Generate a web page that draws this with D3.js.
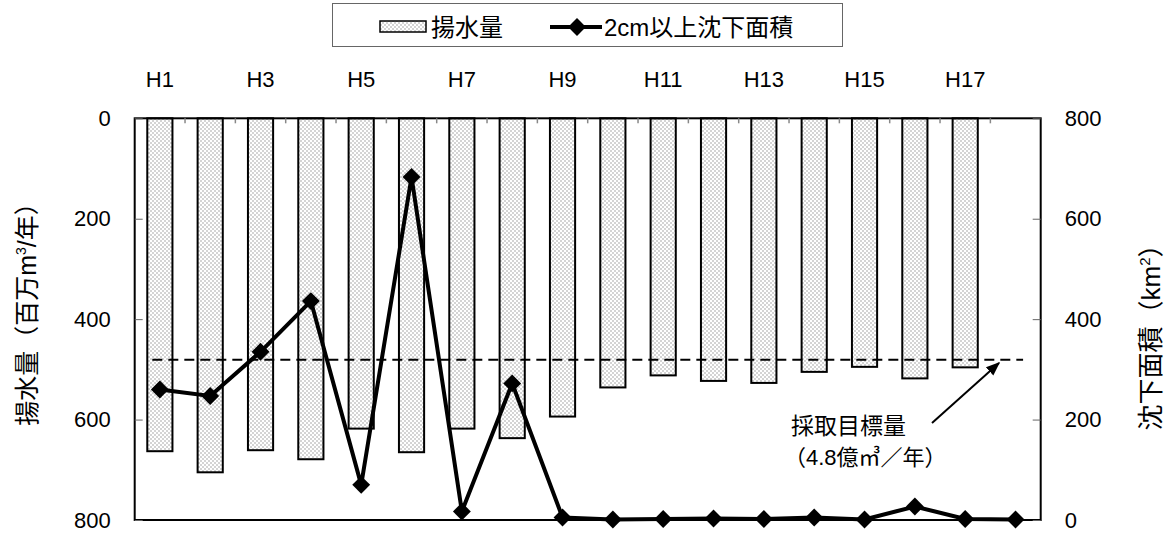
<!DOCTYPE html>
<html>
<head>
<meta charset="utf-8">
<script src="https://cdn.jsdelivr.net/npm/d3@7"></script>
<style>
  body { margin: 0; background: #fff; }
  text { font-family: "Liberation Sans", "Noto Sans CJK JP", sans-serif; fill: #000; }
</style>
</head>
<body>
<div class="chart"></div>
<script>
// data
const years = ["H1","H2","H3","H4","H5","H6","H7","H8","H9","H10","H11","H12","H13","H14","H15","H16","H17","H18"];
const yearLabels = ["H1","H3","H5","H7","H9","H11","H13","H15","H17"];
const pumping = [663, 705, 661, 679, 618, 665, 618, 637, 594, 536, 512, 523, 527, 505, 495, 518, 496];
const area = [260, 247, 335, 436, 70, 683, 17, 272, 5, 1, 2, 3, 2, 5, 1, 27, 2, 1];
const leftTicks = [0, 200, 400, 600, 800];
const rightTicks = [0, 200, 400, 600, 800];
const target = 481;

const W = 1173, H = 536;
const plot = { left: 134.7, right: 1040.7, top: 118.3, bottom: 520 };

const svg = d3.select(".chart").append("svg")
  .attr("width", W).attr("height", H);

const defs = svg.append("defs");
const pat = defs.append("pattern")
  .attr("id", "dots")
  .attr("patternUnits", "userSpaceOnUse")
  .attr("width", 4).attr("height", 4);
pat.append("rect").attr("width", 4).attr("height", 4).attr("fill", "#fff");
pat.append("rect").attr("x", 0.5).attr("y", 0.5).attr("width", 1).attr("height", 1).attr("fill", "#555");
pat.append("rect").attr("x", 2.5).attr("y", 2.5).attr("width", 1).attr("height", 1).attr("fill", "#555");

defs.append("marker")
  .attr("id", "arrow")
  .attr("viewBox", "0 0 10 10")
  .attr("refX", 9).attr("refY", 5)
  .attr("markerWidth", 7).attr("markerHeight", 7)
  .attr("markerUnits", "strokeWidth")
  .attr("orient", "auto")
  .append("path").attr("d", "M0,1 L10,5 L0,9 z").attr("fill", "#000");

// scales
const x = d3.scaleBand().domain(years).range([plot.left, plot.right]);
const yL = d3.scaleLinear().domain([0, 800]).range([plot.top, plot.bottom]);
const yR = d3.scaleLinear().domain([0, 800]).range([plot.bottom, plot.top]);
const bw = x.bandwidth();

// bars (hang down from top)
svg.append("g").selectAll("rect")
  .data(pumping)
  .join("rect")
  .attr("x", (d, i) => x(years[i]) + bw * 0.25)
  .attr("y", yL(0))
  .attr("width", bw * 0.5)
  .attr("height", d => yL(d) - yL(0))
  .attr("fill", "url(#dots)")
  .attr("stroke", "#000")
  .attr("stroke-width", 2);

// target dashed line
svg.append("line")
  .attr("x1", x(years[0]) + bw * 0.35)
  .attr("x2", x(years[years.length - 1]) + bw * 0.65)
  .attr("y1", yL(target)).attr("y2", yL(target))
  .attr("stroke", "#000")
  .attr("stroke-width", 2)
  .attr("stroke-dasharray", "10,6");

// frame
svg.append("rect")
  .attr("x", plot.left).attr("y", plot.top)
  .attr("width", plot.right - plot.left)
  .attr("height", plot.bottom - plot.top)
  .attr("fill", "none")
  .attr("stroke", "#000")
  .attr("stroke-width", 2);

// top category ticks between bands
svg.append("g").selectAll("line")
  .data(years.slice(1))
  .join("line")
  .attr("x1", d => x(d)).attr("x2", d => x(d))
  .attr("y1", plot.top).attr("y2", plot.top + 5)
  .attr("stroke", "#888").attr("stroke-width", 1.5);

// top labels
const xAxis = d3.axisTop(x).tickValues(yearLabels).tickSize(0).tickPadding(31.6);
svg.append("g")
  .attr("transform", `translate(0,${plot.top})`)
  .call(xAxis)
  .call(g => g.select(".domain").remove())
  .selectAll("text").attr("font-size", 22).attr("fill", "#000");

// left axis
const yAxisL = d3.axisLeft(yL).tickValues(leftTicks).tickSizeInner(-8).tickSizeOuter(0).tickPadding(24);
svg.append("g")
  .attr("transform", `translate(${plot.left},0)`)
  .call(yAxisL)
  .call(g => g.select(".domain").remove())
  .call(g => g.selectAll(".tick line").attr("stroke", "#666").attr("stroke-width", 1))
  .selectAll("text").attr("font-size", 22).attr("fill", "#000");

// right axis
const yAxisR = d3.axisRight(yR).tickValues(rightTicks).tickSizeInner(-8).tickSizeOuter(0).tickPadding(24);
svg.append("g")
  .attr("transform", `translate(${plot.right},0)`)
  .call(yAxisR)
  .call(g => g.select(".domain").remove())
  .call(g => g.selectAll(".tick line").attr("stroke", "#666").attr("stroke-width", 1))
  .selectAll("text").attr("font-size", 22).attr("fill", "#000");

// line series
const cx = (i) => x(years[i]) + bw / 2;
const line = d3.line().x((d, i) => cx(i)).y(d => yR(d));
svg.append("path")
  .datum(area)
  .attr("d", line)
  .attr("fill", "none")
  .attr("stroke", "#000")
  .attr("stroke-width", 4)
  .attr("stroke-linejoin", "miter");

const diamond = d3.symbol().type(d3.symbolSquare).size(160);
svg.append("g").selectAll("path")
  .data(area)
  .join("path")
  .attr("d", diamond)
  .attr("transform", (d, i) => `translate(${cx(i)},${yR(d)}) rotate(45)`)
  .attr("fill", "#000");

// axis titles
const tl = svg.append("text")
  .attr("transform", "translate(35.5,308) rotate(-90)")
  .attr("text-anchor", "middle")
  .attr("font-size", 25);
tl.append("tspan").text("揚水量（百万m");
tl.append("tspan").attr("font-size", 14).attr("dy", -10).text("3");
tl.append("tspan").attr("dy", 10).text("/年）");

const tr = svg.append("text")
  .attr("transform", "translate(1160,331) rotate(-90)")
  .attr("text-anchor", "middle")
  .attr("font-size", 26);
tr.append("tspan").text("沈下面積（km");
tr.append("tspan").attr("font-size", 15).attr("dy", -10).text("2");
tr.append("tspan").attr("dy", 10).text("）");

// annotation
svg.append("line")
  .attr("x1", 932).attr("y1", 423)
  .attr("x2", 999).attr("y2", 363)
  .attr("stroke", "#000").attr("stroke-width", 2)
  .attr("marker-end", "url(#arrow)");
svg.append("text").attr("x", 791).attr("y", 434).attr("font-size", 23).text("採取目標量");
svg.append("text").attr("x", 784).attr("y", 465).attr("font-size", 22).text("（4.8億㎥／年）");

// legend
const lg = svg.append("g");
lg.append("rect")
  .attr("x", 332.5).attr("y", 3.5).attr("width", 510).attr("height", 43)
  .attr("fill", "#fff").attr("stroke", "#666").attr("stroke-width", 1);
lg.append("rect")
  .attr("x", 380).attr("y", 21).attr("width", 46).attr("height", 11)
  .attr("fill", "url(#dots)").attr("stroke", "#000").attr("stroke-width", 1.5);
lg.append("text").attr("x", 431).attr("y", 36).attr("font-size", 24).text("揚水量");
lg.append("line")
  .attr("x1", 550).attr("x2", 602).attr("y1", 27).attr("y2", 27)
  .attr("stroke", "#000").attr("stroke-width", 4);
lg.append("path")
  .attr("d", diamond)
  .attr("transform", "translate(577,27) rotate(45)")
  .attr("fill", "#000");
lg.append("text").attr("x", 604).attr("y", 36).attr("font-size", 24).text("2cm以上沈下面積");
</script>
</body>
</html>
